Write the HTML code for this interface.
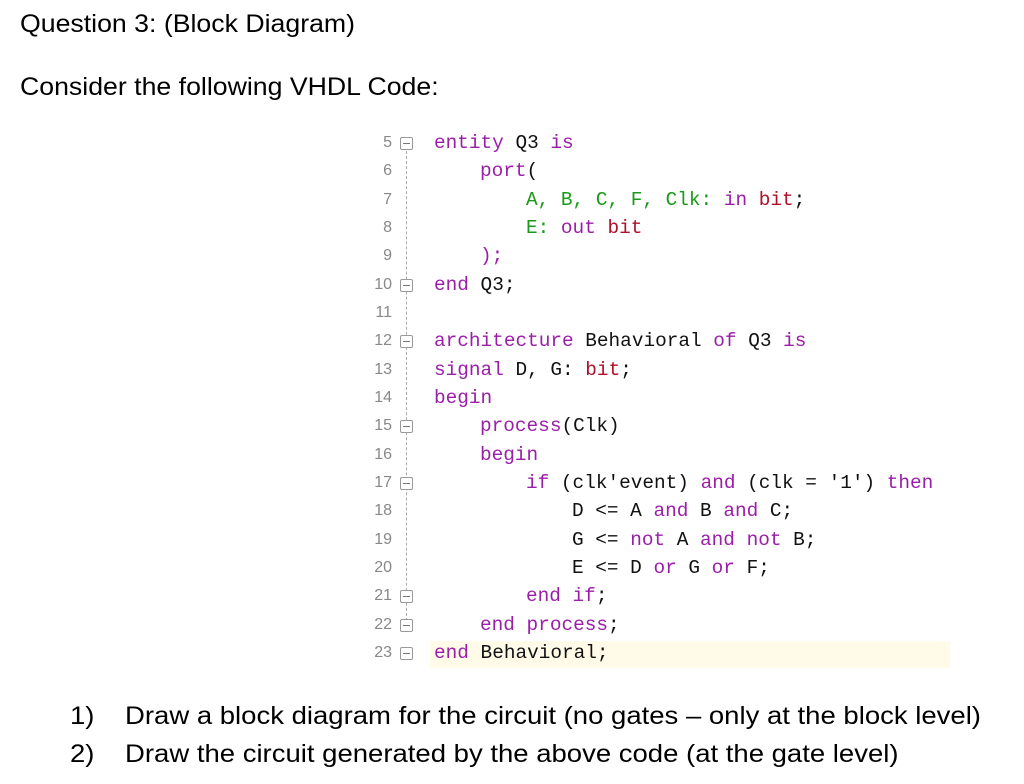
<!DOCTYPE html>
<html><head><style>
body{margin:0;width:1024px;height:784px;background:#fff;position:relative;overflow:hidden;font-family:"Liberation Sans",sans-serif;}
.h{position:absolute;left:20px;font-size:25px;color:#000;transform:scaleX(1.067);transform-origin:left top;white-space:nowrap;}
.code{position:absolute;left:0;top:130px;font-family:"Liberation Mono",monospace;font-size:19.4px;}
.ln{position:absolute;left:340px;width:52px;text-align:right;color:#888;font-size:16px;font-family:"Liberation Sans",sans-serif;}
.tx{position:absolute;white-space:pre;color:#111;}
.k{color:#9a1fa8}.g{color:#1a9a1a}.r{color:#b0102a}
.fold{position:absolute;left:400px;width:11px;height:11px;border:1px solid #999;border-radius:2px;background:#fff;}
.fold:after{content:"";position:absolute;left:2px;right:2px;top:5px;height:1px;background:#777;}
.dash{position:absolute;left:406px;width:0;border-left:1px dashed #aaa;}
.li{position:absolute;left:70px;font-size:25px;transform:scaleX(1.1);transform-origin:left top;white-space:nowrap;}
</style></head><body>
<div class="h" style="top:10px">Question 3: (Block Diagram)</div>
<div class="h" style="top:73px">Consider the following VHDL Code:</div>
<div style="position:absolute;left:430px;top:641px;width:520px;height:27px;background:#fffbe8"></div>
<div class="dash" style="top:151px;height:480px"></div>
<div class="code">
<div class="ln" style="top:4px">5</div><div class="fold" style="top:7px"></div><div class="tx" style="left:434px;top:2px"><span class="k">entity</span> Q3 <span class="k">is</span></div>
<div class="ln" style="top:32px">6</div><div class="tx" style="left:480px;top:30px"><span class="k">port</span>(</div>
<div class="ln" style="top:61px">7</div><div class="tx" style="left:526px;top:59px"><span class="g">A, B, C, F, Clk:</span> <span class="k">in</span> <span class="r">bit</span>;</div>
<div class="ln" style="top:89px">8</div><div class="tx" style="left:526px;top:87px"><span class="g">E:</span> <span class="k">out</span> <span class="r">bit</span></div>
<div class="ln" style="top:117px">9</div><div class="tx" style="left:480px;top:115px"><span class="k">);</span></div>
<div class="ln" style="top:146px">10</div><div class="fold" style="top:149px"></div><div class="tx" style="left:434px;top:144px"><span class="k">end</span> Q3;</div>
<div class="ln" style="top:174px">11</div>
<div class="ln" style="top:202px">12</div><div class="fold" style="top:205px"></div><div class="tx" style="left:434px;top:200px"><span class="k">architecture</span> Behavioral <span class="k">of</span> Q3 <span class="k">is</span></div>
<div class="ln" style="top:231px">13</div><div class="tx" style="left:434px;top:229px"><span class="k">signal</span> D, G: <span class="r">bit</span>;</div>
<div class="ln" style="top:259px">14</div><div class="tx" style="left:434px;top:257px"><span class="k">begin</span></div>
<div class="ln" style="top:287px">15</div><div class="fold" style="top:290px"></div><div class="tx" style="left:480px;top:285px"><span class="k">process</span>(Clk)</div>
<div class="ln" style="top:316px">16</div><div class="tx" style="left:480px;top:314px"><span class="k">begin</span></div>
<div class="ln" style="top:344px">17</div><div class="fold" style="top:347px"></div><div class="tx" style="left:526px;top:342px"><span class="k">if</span> (clk'event) <span class="k">and</span> (clk = '1') <span class="k">then</span></div>
<div class="ln" style="top:372px">18</div><div class="tx" style="left:572px;top:370px">D &lt;= A <span class="k">and</span> B <span class="k">and</span> C;</div>
<div class="ln" style="top:401px">19</div><div class="tx" style="left:572px;top:399px">G &lt;= <span class="k">not</span> A <span class="k">and</span> <span class="k">not</span> B;</div>
<div class="ln" style="top:429px">20</div><div class="tx" style="left:572px;top:427px">E &lt;= D <span class="k">or</span> G <span class="k">or</span> F;</div>
<div class="ln" style="top:457px">21</div><div class="fold" style="top:460px"></div><div class="tx" style="left:526px;top:455px"><span class="k">end if</span>;</div>
<div class="ln" style="top:486px">22</div><div class="fold" style="top:489px"></div><div class="tx" style="left:480px;top:484px"><span class="k">end process</span>;</div>
<div class="ln" style="top:514px">23</div><div class="fold" style="top:517px"></div><div class="tx" style="left:434px;top:512px"><span class="k">end</span> Behavioral;</div>
</div>
<div class="li" style="top:702px">1)&nbsp;&nbsp;&nbsp; Draw a block diagram for the circuit (no gates – only at the block level)</div>
<div class="li" style="top:740px">2)&nbsp;&nbsp;&nbsp; Draw the circuit generated by the above code (at the gate level)</div>
</body></html>
